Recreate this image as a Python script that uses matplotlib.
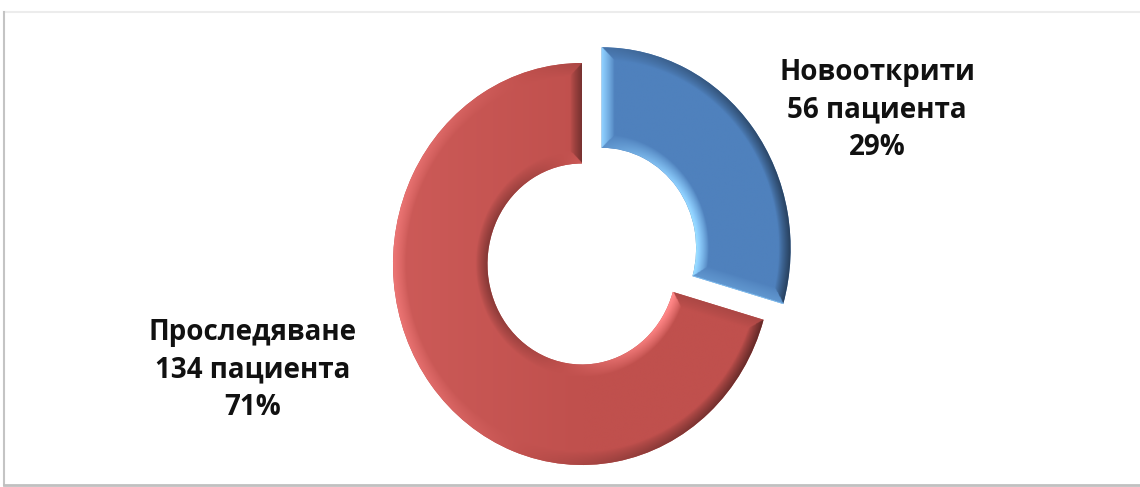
import numpy as np
import matplotlib.pyplot as plt
from matplotlib.colors import to_rgb
from matplotlib.lines import Line2D

plt.rcParams['font.family'] = ['Open Sans', 'DejaVu Sans']

groups = ['Новооткрити', 'Проследяване']
patients = [56, 134]
colors = ['#4f81bd', '#c0504d']
highlights = ['#8fd0ff', '#ff8585']
explode = [0.13, 0]

total = sum(patients)
shares = [round(100 * p / total) for p in patients]

W, H = 1140, 487
fig = plt.figure(figsize=(W / 100, H / 100), dpi=100)
fig.patch.set_facecolor('white')

# light frame around the chart area
def px_line(x, y, color, lw):
    fig.add_artist(Line2D([v / W for v in x], [1 - v / H for v in y],
                          transform=fig.transFigure, color=color, lw=lw))

px_line([4, 1140], [12, 12], '#ececec', 1.5)
px_line([4, 4], [12, 485], '#c4c4c4', 1.5)
px_line([4, 1140], [485, 485], '#c0c0c0', 2.0)

# donut, slightly taller than wide
cx, cy, rx, ry = 582, 264, 189, 201
lim = 1.25
ax = fig.add_axes([(cx - lim * rx) / W, (H - cy - lim * ry) / H,
                   2 * lim * rx / W, 2 * lim * ry / H])
wedges, _ = ax.pie(patients, colors=colors, explode=explode, startangle=90,
                   counterclock=False, wedgeprops=dict(width=0.5, linewidth=0))

# bevel shading on each ring segment
xs = np.linspace(-lim, lim, 800)
X, Y = np.meshgrid(xs, xs)
light = np.array([-1.0, 0.0])
bevel = 0.065
for w, base, hi in zip(wedges, colors, highlights):
    base, hi = np.array(to_rgb(base)), np.array(to_rgb(hi))
    dark = base * 0.6
    wx, wy = w.center
    dx, dy = X - wx, Y - wy
    r = np.hypot(dx, dy) + 1e-9
    th = np.degrees(np.arctan2(dy, dx))
    t1, t2 = np.radians(w.theta1), np.radians(w.theta2)
    phi = np.radians((th - w.theta1) % 360)
    span = t2 - t1
    d = np.stack([w.r - r,
                  r - (w.r - w.width),
                  r * np.sin(np.clip(phi, 0, np.pi / 2)),
                  r * np.sin(np.clip(span - phi, 0, np.pi / 2))])
    ux, uy = dx / r, dy / r
    shade = np.stack([ux * light[0] + uy * light[1] - 0.3,
                      -(ux * light[0] + uy * light[1]) + 0.2,
                      np.full_like(r, np.sin(t1) * light[0] - np.cos(t1) * light[1]),
                      np.full_like(r, -np.sin(t2) * light[0] + np.cos(t2) * light[1])])
    k = np.argmin(d, axis=0)
    dmin = np.take_along_axis(d, k[None], 0)[0]
    s = np.take_along_axis(shade, k[None], 0)[0]
    wgt = np.clip(1 - dmin / bevel, 0, 1) ** 0.8
    body = np.clip(-dx, 0, 1) * 0.2
    rgb = (base[None, None, :]
           + (hi - base)[None, None, :] * (np.clip(s, 0, None) * wgt + body * (1 - wgt))[..., None]
           + (dark - base)[None, None, :] * (np.clip(-s, 0, None) * wgt)[..., None])
    im = ax.imshow(np.clip(rgb, 0, 1), extent=(-lim, lim, -lim, lim), origin='lower',
                   interpolation='bilinear', aspect='auto', zorder=3)
    im.set_clip_path(w)

ax.set_xlim(-lim, lim)
ax.set_ylim(-lim, lim)
ax.set_aspect('auto')
ax.axis('off')

labels = [f'{g}\n{p} пациента\n{s}%' for g, p, s in zip(groups, patients, shares)]
fig.text(877 / W, 1 - 110 / H, labels[0], ha='center', va='center',
         fontsize=20, fontweight='bold', linespacing=1.4, color='#111111')
fig.text(253 / W, 1 - 370 / H, labels[1], ha='center', va='center',
         fontsize=20, fontweight='bold', linespacing=1.4, color='#111111')

fig.savefig('out.png', dpi=100)
